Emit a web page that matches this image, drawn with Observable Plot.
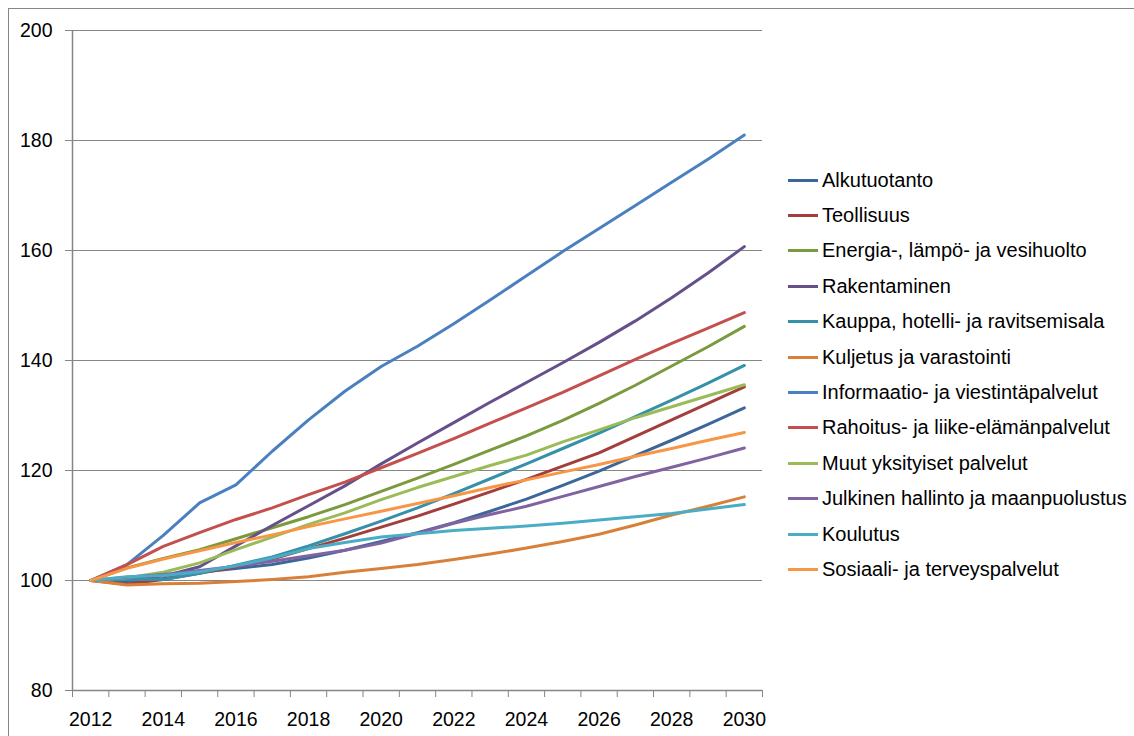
<!DOCTYPE html>
<html><head><meta charset="utf-8">
<script src="https://cdn.jsdelivr.net/npm/d3@7"></script>
<script src="https://cdn.jsdelivr.net/npm/@observablehq/plot@0.6"></script>
<style>
body{margin:0;width:1134px;height:736px;overflow:hidden;background:#fff;position:relative;font-family:"Liberation Sans",Arial,sans-serif;}
#border{position:absolute;left:8px;top:8px;width:1200px;height:800px;border:1px solid #868686;box-sizing:border-box;}
#chart{position:absolute;left:0;top:0;}
#legend{position:absolute;left:788px;top:0;}
.row{position:absolute;left:0;display:flex;align-items:center;white-space:nowrap;font-size:20px;height:24px;color:#000;}
.sw{width:30px;height:3px;margin-right:4px;}
</style></head><body>
<div id="border"></div>
<div id="chart"></div>
<div id="legend"></div>
<script>
const years = [2012,2013,2014,2015,2016,2017,2018,2019,2020,2021,2022,2023,2024,2025,2026,2027,2028,2029,2030];
const seriesNames = [
  "Alkutuotanto","Teollisuus","Energia-, lämpö- ja vesihuolto","Rakentaminen",
  "Kauppa, hotelli- ja ravitsemisala","Kuljetus ja varastointi","Informaatio- ja viestintäpalvelut",
  "Rahoitus- ja liike-elämänpalvelut","Muut yksityiset palvelut","Julkinen hallinto ja maanpuolustus",
  "Koulutus","Sosiaali- ja terveyspalvelut"
];
const seriesColors = ["#3c6798","#a33e3b","#7a9a3d","#65508a","#3590a8","#d8803a","#4a80c0","#c4504d","#9bbb59","#8064a2","#4bacc6","#f79646"];

const alkutuotanto   = [100, 99.8,100.3,101.5,102.2,102.9,104.1,105.5,107.1,108.7,110.5,112.6,114.8,117.3,119.9,122.7,125.5,128.4,131.4];
const teollisuus     = [100, 99.3,100.2,101.3,102.5,103.9,105.8,107.7,109.7,111.7,113.9,116.1,118.4,120.8,123.2,126.2,129.2,132.2,135.2];
const energia        = [100,102.3,104.0,105.6,107.6,109.6,111.6,113.8,116.2,118.6,121.1,123.7,126.3,129.1,132.2,135.5,139.0,142.5,146.2];
const rakentaminen   = [100,100.3,100.8,102.5,106.3,110.0,113.6,117.2,121.2,125.0,128.7,132.4,136.0,139.6,143.3,147.2,151.4,155.9,160.7];
const kauppa         = [100,100.2,100.2,101.3,102.8,104.3,106.3,108.5,110.8,113.2,115.8,118.5,121.2,124.0,126.8,129.8,132.8,135.9,139.1];
const kuljetus       = [100, 99.2, 99.4, 99.5, 99.8,100.2,100.7,101.5,102.2,102.9,103.8,104.8,105.9,107.1,108.4,110.1,111.9,113.5,115.2];
const informaatio    = [100,102.9,108.2,114.1,117.4,123.5,129.2,134.4,138.9,142.6,146.7,151.0,155.4,159.8,164.0,168.2,172.4,176.6,181.0];
const rahoitus       = [100,102.9,106.2,108.7,111.1,113.2,115.6,117.9,120.5,123.1,125.8,128.6,131.4,134.2,137.2,140.2,143.1,145.9,148.7];
const muut           = [100,100.5,101.5,103.2,105.6,107.9,110.2,112.3,114.7,116.9,118.9,120.9,122.8,125.2,127.4,129.6,131.6,133.6,135.6];
const julkinen       = [100,100.6,101.1,101.8,102.6,103.5,104.5,105.5,106.8,108.6,110.4,112.0,113.5,115.3,117.1,118.9,120.6,122.3,124.1];
const koulutus       = [100,100.7,100.9,101.6,102.7,104.1,105.8,106.9,107.9,108.5,109.1,109.5,109.9,110.4,111.0,111.6,112.2,113.0,113.8];
const sosiaali       = [100,102.2,103.9,105.4,106.9,108.3,109.8,111.2,112.6,114.0,115.4,116.9,118.3,119.7,121.1,122.6,124.0,125.5,126.9];

const seriesValues = [alkutuotanto,teollisuus,energia,rakentaminen,kauppa,kuljetus,informaatio,rahoitus,muut,julkinen,koulutus,sosiaali];
const yTicks = [80,100,120,140,160,180,200];
const xTickLabels = [2012,2014,2016,2018,2020,2022,2024,2026,2028,2030];
const xBoundaries = d3.range(2011.5, 2031, 1);

const data = [];
seriesNames.forEach((name, i) => {
  years.forEach((yr, j) => data.push({series: name, year: yr, value: seriesValues[i][j]}));
});

const axisColor = "#868686";
const chart = Plot.plot({
  width: 1134,
  height: 736,
  marginLeft: 72,
  marginRight: 372,
  marginTop: 30,
  marginBottom: 46,
  style: {fontFamily: '"Liberation Sans", Arial, sans-serif', fontSize: "19.5px", color: "#000", background: "transparent"},
  x: {domain: [2011.5, 2030.5], label: null},
  y: {domain: [80, 200], label: null},
  color: {domain: seriesNames, range: seriesColors},
  marks: [
    Plot.ruleY(yTicks.filter(d => d > 80), {stroke: axisColor, strokeWidth: 1.2, strokeOpacity: 1}),
    Plot.axisY({ticks: yTicks, tickSize: 7, tickPadding: 13, stroke: axisColor, strokeOpacity: 1, label: null, fill: "#000"}),
    Plot.axisX({ticks: xBoundaries, tickSize: 7, tickFormat: () => "", stroke: axisColor, strokeOpacity: 1, label: null}),
    Plot.axisX({ticks: xTickLabels, tickSize: 0, tickPadding: 22, tickFormat: d => String(d), label: null, fill: "#000"}),
    Plot.ruleY([80], {stroke: axisColor, strokeWidth: 1.5}),
    Plot.ruleX([2011.5], {stroke: axisColor, strokeWidth: 1.5}),
    Plot.line(data, {x: "year", y: "value", z: "series", stroke: "series", strokeWidth: 3, strokeLinejoin: "round", strokeLinecap: "round"})
  ]
});
document.getElementById("chart").appendChild(chart);

const legend = document.getElementById("legend");
seriesNames.forEach((name, i) => {
  const row = document.createElement("div");
  row.className = "row";
  row.style.top = (180 + i * 35.4 - 12) + "px";
  const sw = document.createElement("div");
  sw.className = "sw";
  sw.style.background = seriesColors[i];
  const tx = document.createElement("span");
  tx.textContent = name;
  row.appendChild(sw);
  row.appendChild(tx);
  legend.appendChild(row);
});
</script>
</body></html>
